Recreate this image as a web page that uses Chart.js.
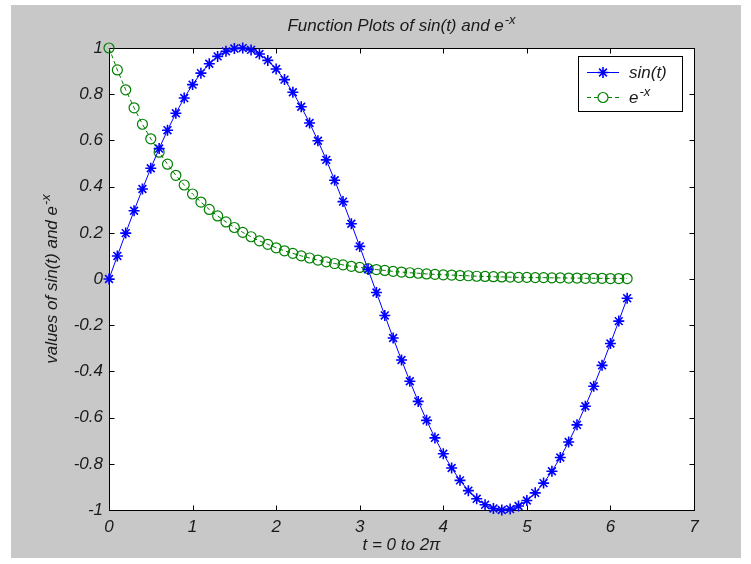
<!DOCTYPE html>
<html>
<head>
<meta charset="utf-8">
<title>Function Plots</title>
<script src="https://cdn.jsdelivr.net/npm/chart.js@4.4.0/dist/chart.umd.min.js"></script>
<style>
  html, body { margin: 0; padding: 0; background: #ffffff; }
  canvas { display: block; }
</style>
</head>
<body>
<canvas id="chart" width="751" height="564"></canvas>
<script>
// t = 0 .. 6.2, step 0.1
const tValues = [
  0, 0.1, 0.2, 0.3, 0.4, 0.5, 0.6, 0.7, 0.8, 0.9,
  1.0, 1.1, 1.2, 1.3, 1.4, 1.5, 1.6, 1.7, 1.8, 1.9,
  2.0, 2.1, 2.2, 2.3, 2.4, 2.5, 2.6, 2.7, 2.8, 2.9,
  3.0, 3.1, 3.2, 3.3, 3.4, 3.5, 3.6, 3.7, 3.8, 3.9,
  4.0, 4.1, 4.2, 4.3, 4.4, 4.5, 4.6, 4.7, 4.8, 4.9,
  5.0, 5.1, 5.2, 5.3, 5.4, 5.5, 5.6, 5.7, 5.8, 5.9,
  6.0, 6.1, 6.2
];

const sinValues = [
  0, 0.0998, 0.1987, 0.2955, 0.3894, 0.4794, 0.5646, 0.6442, 0.7174, 0.7833,
  0.8415, 0.8912, 0.9320, 0.9636, 0.9854, 0.9975, 0.9996, 0.9917, 0.9738, 0.9463,
  0.9093, 0.8632, 0.8085, 0.7457, 0.6755, 0.5985, 0.5155, 0.4274, 0.3350, 0.2392,
  0.1411, 0.0416, -0.0584, -0.1577, -0.2555, -0.3508, -0.4425, -0.5298, -0.6119, -0.6878,
  -0.7568, -0.8183, -0.8716, -0.9162, -0.9516, -0.9775, -0.9937, -0.9999, -0.9962, -0.9825,
  -0.9589, -0.9258, -0.8835, -0.8323, -0.7728, -0.7055, -0.6313, -0.5507, -0.4646, -0.3739,
  -0.2794, -0.1822, -0.0831
];

const expValues = [
  1.000, 0.905, 0.819, 0.741, 0.670, 0.607, 0.549, 0.497, 0.449, 0.407,
  0.368, 0.333, 0.301, 0.273, 0.247, 0.223, 0.202, 0.183, 0.165, 0.150,
  0.135, 0.122, 0.111, 0.100, 0.091, 0.082, 0.074, 0.067, 0.061, 0.055,
  0.050, 0.045, 0.041, 0.037, 0.033, 0.030, 0.027, 0.025, 0.022, 0.020,
  0.018, 0.017, 0.015, 0.014, 0.012, 0.011, 0.010, 0.009, 0.008, 0.007,
  0.007, 0.006, 0.006, 0.005, 0.005, 0.004, 0.004, 0.003, 0.003, 0.003,
  0.002, 0.002, 0.002
];

const xTicks = [0, 1, 2, 3, 4, 5, 6, 7];
const yTicks = [-1, -0.8, -0.6, -0.4, -0.2, 0, 0.2, 0.4, 0.6, 0.8, 1];

const FONT = '"Liberation Sans", Arial, Helvetica, sans-serif';
const TEXT = '#1a1a1a';
const BLUE = '#0000ff';
const GREEN = '#008000';

// base text followed by a raised, smaller suffix (e^-x)
function supWidth(ctx, base, sup, size, supSize) {
  ctx.font = 'italic ' + size + 'px ' + FONT;
  const w1 = ctx.measureText(base).width;
  ctx.font = 'italic ' + supSize + 'px ' + FONT;
  return w1 + 1 + ctx.measureText(sup).width;
}
function drawSup(ctx, base, sup, x, y, size, supSize, rise) {
  ctx.textAlign = 'left';
  ctx.textBaseline = 'alphabetic';
  ctx.font = 'italic ' + size + 'px ' + FONT;
  ctx.fillText(base, x, y);
  const w1 = ctx.measureText(base).width;
  ctx.font = 'italic ' + supSize + 'px ' + FONT;
  ctx.fillText(sup, x + w1 + 1, y - rise);
}

const matlabFrame = {
  id: 'matlabFrame',
  beforeDraw(chart) {
    const ctx = chart.ctx;
    const a = chart.chartArea;
    ctx.save();
    ctx.fillStyle = '#ffffff';
    ctx.fillRect(0, 0, chart.width, chart.height);
    ctx.fillStyle = '#c8c8c8';
    ctx.fillRect(11, 5, 730, 553);
    ctx.fillStyle = '#ffffff';
    ctx.fillRect(a.left, a.top, a.right - a.left, a.bottom - a.top);
    ctx.restore();
  },
  beforeDatasetsDraw(chart) {
    const ctx = chart.ctx;
    const a = chart.chartArea;
    const xs = chart.scales.x, ys = chart.scales.y;
    const L = Math.round(a.left) + 0.5, R = Math.round(a.right) + 0.5;
    const T = Math.round(a.top) + 0.5, B = Math.round(a.bottom) + 0.5;
    ctx.save();
    ctx.strokeStyle = '#000000';
    ctx.lineWidth = 1;
    ctx.strokeRect(L, T, R - L, B - T);
    // inward ticks on all four sides
    const len = 5;
    ctx.beginPath();
    xTicks.forEach(v => {
      const px = Math.round(xs.getPixelForValue(v)) + 0.5;
      ctx.moveTo(px, B); ctx.lineTo(px, B - len);
      ctx.moveTo(px, T); ctx.lineTo(px, T + len);
    });
    yTicks.forEach(v => {
      const py = Math.round(ys.getPixelForValue(v)) + 0.5;
      ctx.moveTo(L, py); ctx.lineTo(L + len, py);
      ctx.moveTo(R, py); ctx.lineTo(R - len, py);
    });
    ctx.stroke();
    ctx.restore();
  },
  afterDraw(chart) {
    const ctx = chart.ctx;
    const a = chart.chartArea;
    const cx = (a.left + a.right) / 2;
    const cy = (a.top + a.bottom) / 2;
    ctx.save();
    ctx.fillStyle = TEXT;

    // title
    const tw = supWidth(ctx, 'Function Plots of sin(t) and e', '-x', 17, 13);
    drawSup(ctx, 'Function Plots of sin(t) and e', '-x', cx - tw / 2, 31, 17, 13, 7);

    // x axis label
    ctx.font = 'italic 17px ' + FONT;
    ctx.textAlign = 'center';
    ctx.textBaseline = 'alphabetic';
    ctx.fillText('t = 0 to 2\u03c0', cx, 550);

    // y axis label, rotated
    ctx.save();
    ctx.translate(57, cy);
    ctx.rotate(-Math.PI / 2);
    const yw = supWidth(ctx, 'values of sin(t) and e', '-x', 17, 13);
    drawSup(ctx, 'values of sin(t) and e', '-x', -yw / 2, 0, 17, 13, 7);
    ctx.restore();

    // legend box
    ctx.fillStyle = '#ffffff';
    ctx.fillRect(578, 56, 104, 55);
    ctx.strokeStyle = '#000000';
    ctx.lineWidth = 1;
    ctx.strokeRect(578.5, 56.5, 104, 55);

    const ds = chart.data.datasets;
    const rows = [72, 97];
    ds.forEach((d, i) => {
      const y = rows[i] + 0.5;
      ctx.save();
      ctx.strokeStyle = d.borderColor;
      ctx.lineWidth = 1;
      ctx.setLineDash(d.borderDash || []);
      ctx.beginPath();
      ctx.moveTo(587, y);
      ctx.lineTo(619, y);
      ctx.stroke();
      ctx.setLineDash([]);
      ctx.strokeStyle = d.pointBorderColor;
      ctx.lineWidth = d.pointBorderWidth;
      Chart.helpers.drawPoint(ctx, {
        pointStyle: d.pointStyle, radius: d.pointRadius, rotation: 0, borderWidth: d.pointBorderWidth
      }, 603, y);
      ctx.restore();
    });
    ctx.fillStyle = TEXT;
    ctx.font = 'italic 17px ' + FONT;
    ctx.textAlign = 'left';
    ctx.textBaseline = 'alphabetic';
    ctx.fillText('sin(t)', 629, 78);
    drawSup(ctx, 'e', '-x', 629, 103, 17, 13, 7);

    ctx.restore();
  }
};

const sinPoints = tValues.map((t, i) => ({ x: t, y: sinValues[i] }));
const expPoints = tValues.map((t, i) => ({ x: t, y: expValues[i] }));

const ctx = document.getElementById('chart').getContext('2d');
const chart = new Chart(ctx, {
  type: 'line',
  data: {
    datasets: [{
      label: 'sin(t)',
      data: sinPoints,
      borderColor: BLUE,
      borderWidth: 1,
      pointStyle: 'star',
      pointRadius: 5.5,
      pointBorderColor: BLUE,
      pointBackgroundColor: 'transparent',
      pointBorderWidth: 1.6,
      tension: 0,
      fill: false,
      clip: false
    }, {
      label: 'e^-x',
      data: expPoints,
      borderColor: GREEN,
      borderWidth: 1,
      borderDash: [4, 3],
      pointStyle: 'circle',
      pointRadius: 5,
      pointBorderColor: GREEN,
      pointBackgroundColor: 'transparent',
      pointBorderWidth: 1.2,
      tension: 0,
      fill: false,
      clip: false
    }]
  },
  options: {
    responsive: false,
    animation: false,
    devicePixelRatio: 1,
    layout: { padding: { top: 48, right: 57, left: 0, bottom: 0 } },
    plugins: {
      legend: { display: false },
      title: { display: false },
      tooltip: { enabled: false }
    },
    scales: {
      x: {
        type: 'linear',
        min: 0,
        max: 7,
        afterFit: s => { s.height = 54; },
        afterBuildTicks: s => { s.ticks = xTicks.map(v => ({ value: v })); },
        grid: { display: false, drawTicks: false },
        border: { display: false },
        ticks: {
          padding: 7,
          color: TEXT,
          font: { family: FONT, size: 17, style: 'italic' },
          callback: v => String(v)
        }
      },
      y: {
        type: 'linear',
        min: -1,
        max: 1,
        afterFit: s => { s.width = 109; },
        afterBuildTicks: s => { s.ticks = yTicks.map(v => ({ value: v })); },
        grid: { display: false, drawTicks: false },
        border: { display: false },
        ticks: {
          padding: 6,
          color: TEXT,
          font: { family: FONT, size: 17, style: 'italic' },
          callback: v => String(Number(v.toFixed(1)))
        }
      }
    }
  },
  plugins: [matlabFrame]
});
</script>
</body>
</html>
